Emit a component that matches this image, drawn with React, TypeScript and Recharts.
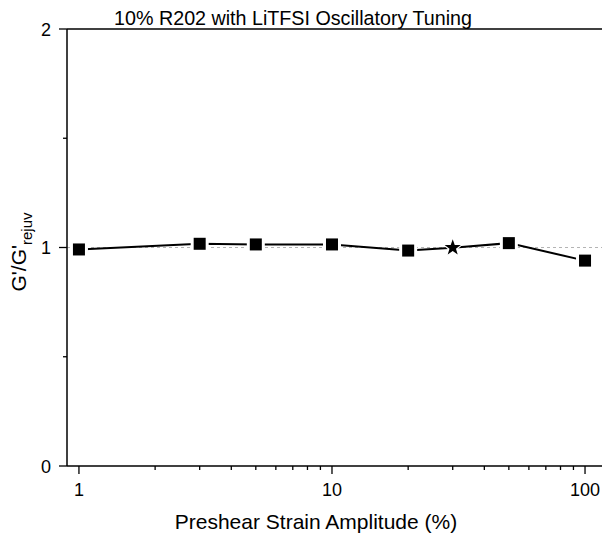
import { Line, LineChart, ReferenceLine, XAxis, YAxis } from "recharts";

const strain = [1, 3, 5, 10, 20, 30, 50, 100];
const ratio = [0.991, 1.017, 1.014, 1.014, 0.986, 0.999, 1.02, 0.94];
const markers = ["square", "square", "square", "square", "square", "star", "square", "square"];

const xTicks = [1, 2, 3, 4, 5, 6, 7, 8, 9, 10, 20, 30, 40, 50, 60, 70, 80, 90, 100];
const xMajor = [1, 10, 100];
const yTicks = [0, 0.5, 1, 1.5, 2];
const yMajor = [0, 1, 2];

const data = strain.map((x, i) => ({ x, y: ratio[i], marker: markers[i] }));

const font = "'Liberation Sans', Arial, sans-serif";

function starPoints(cx: number, cy: number, outer: number, inner: number) {
  const pts: string[] = [];
  for (let i = 0; i < 10; i++) {
    const r = i % 2 === 0 ? outer : inner;
    const a = -Math.PI / 2 + (i * Math.PI) / 5;
    pts.push(`${cx + r * Math.cos(a)},${cy + r * Math.sin(a)}`);
  }
  return pts.join(" ");
}

function Marker(props: any) {
  const { cx, cy, payload, index } = props;
  if (cx == null || cy == null) return <g key={index} />;
  if (payload.marker === "star") {
    return (
      <g key={index}>
        <polygon points={starPoints(cx, cy, 11, 5)} fill="#fff" />
        <polygon points={starPoints(cx, cy, 8.5, 3.4)} fill="#000" />
      </g>
    );
  }
  return (
    <g key={index}>
      <rect x={cx - 9} y={cy - 9} width={18} height={18} fill="#fff" />
      <rect x={cx - 6} y={cy - 6} width={12} height={12} fill="#000" />
    </g>
  );
}

function XTick(props: any) {
  const { x, y, payload } = props;
  const major = xMajor.includes(payload.value);
  return (
    <g>
      <line x1={x} x2={x} y1={y} y2={y + (major ? 8 : 4)} stroke="#000" strokeWidth={1.3} />
      {major && (
        <text x={x} y={y + 30} textAnchor="middle" fontSize={18} fontFamily={font} fill="#000">
          {payload.value}
        </text>
      )}
    </g>
  );
}

function YTick(props: any) {
  const { x, y, payload } = props;
  const major = yMajor.includes(payload.value);
  return (
    <g>
      <line x1={x} x2={x - (major ? 8 : 4)} y1={y} y2={y} stroke="#000" strokeWidth={1.3} />
      {major && (
        <text x={x - 16} y={y + 6.5} textAnchor="end" fontSize={18} fontFamily={font} fill="#000">
          {payload.value}
        </text>
      )}
    </g>
  );
}

export default function App() {
  return (
    <div style={{ position: "absolute", left: 0, top: 0, width: 603, height: 539, background: "#fff" }}>
      <LineChart width={603} height={539} data={data} margin={{ top: 29, right: 1, bottom: 0, left: 0 }}>
        <XAxis
          dataKey="x"
          type="number"
          scale="log"
          domain={[0.897, 116.7]}
          allowDataOverflow
          ticks={xTicks}
          interval={0}
          height={73}
          tickSize={0}
          tickMargin={0}
          tickLine={false}
          tick={<XTick />}
          axisLine={{ stroke: "#000", strokeWidth: 1.5 }}
        />
        <YAxis
          type="number"
          domain={[0, 2]}
          ticks={yTicks}
          interval={0}
          width={67}
          tickSize={0}
          tickMargin={0}
          tickLine={false}
          tick={<YTick />}
          axisLine={{ stroke: "#000", strokeWidth: 1.5 }}
        />
        <ReferenceLine y={1} stroke="#b4b4b4" strokeDasharray="3 3" strokeWidth={1} />
        <ReferenceLine y={2} stroke="#000" strokeWidth={1.5} />
        <Line
          dataKey="y"
          stroke="#000"
          strokeWidth={2}
          dot={Marker}
          activeDot={false}
          isAnimationActive={false}
        />
      </LineChart>
      <svg width={603} height={539} style={{ position: "absolute", left: 0, top: 0, pointerEvents: "none" }}>
        <text x={293} y={25} textAnchor="middle" fontSize={19.7} fontFamily={font} fill="#000">
          10% R202 with LiTFSI Oscillatory Tuning
        </text>
        <text x={316} y={529} textAnchor="middle" fontSize={21} fontFamily={font} fill="#000">
          Preshear Strain Amplitude (%)
        </text>
        <text transform="translate(26,252) rotate(-90)" textAnchor="middle" fontSize={21} fontFamily={font} fill="#000">
          <tspan>G'/G'</tspan>
          <tspan dy={6} fontSize={15}>rejuv</tspan>
        </text>
      </svg>
    </div>
  );
}
